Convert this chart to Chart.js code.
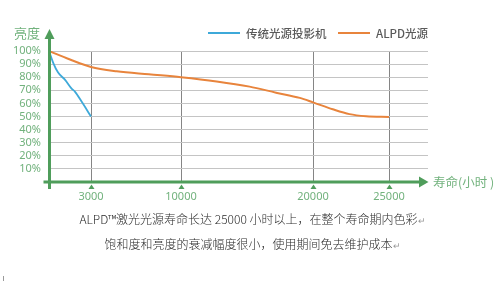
<!DOCTYPE html>
<html>
<head>
<meta charset="utf-8">
<script src="https://cdn.jsdelivr.net/npm/chart.js@4.4.1/dist/chart.umd.min.js"></script>
<style>
  html, body { margin: 0; padding: 0; background: #ffffff; }
  #wrap { position: relative; width: 500px; height: 281px; overflow: hidden; }
  #chart { position: absolute; left: 0; top: 0; }
  .cap { position: absolute; left: 0; width: 505px; text-align: center;
         font-family: "Noto Sans CJK SC", "Noto Sans", sans-serif; font-size: 12px; font-weight: 300;
         color: #2a2a2a; line-height: 14px; white-space: nowrap; }
  .cap .ret { color: #9a9a9a; font-size: 9px; }
  #mark { position: absolute; left: 3px; top: 276px; width: 1px; height: 5px; background: #9a9a9a; }
</style>
</head>
<body>
<div id="wrap">
  <canvas id="chart" width="500" height="281"></canvas>
  <div class="cap" style="top:212px;">ALPD™激光光源寿命长达 25000 小时以上，在整个寿命期内色彩<span class="ret">↵</span></div>
  <div class="cap" style="top:237px;">饱和度和亮度的衰减幅度很小，使用期间免去维护成本<span class="ret">↵</span></div>
  <div id="mark"></div>
</div>
<script>
// Brightness (%) against operating hours for the two light sources
const traditionalHours      = [0, 300, 650, 1150, 1600, 1850, 2350, 3000];
const traditionalBrightness = [100, 91, 83.5, 78, 71.5, 69, 61, 50];

const alpdHours      = [0, 1500, 3000, 5000, 7500, 10000, 12700, 15200, 17200, 19000, 20000, 21300, 22400, 23500, 25000];
const alpdBrightness = [100, 93.5, 87.8, 84.5, 82.2, 80, 76.8, 72.8, 68.2, 64.2, 60.8, 55.5, 51.8, 50.2, 49.6];

const seriesLabels = ['传统光源投影机', 'ALPD光源'];
const xTickValues  = [3000, 10000, 20000, 25000];
const yTickValues  = [10, 20, 30, 40, 50, 60, 70, 80, 90, 100];
const yAxisTitle   = '亮度';
const xAxisTitle   = '寿命(小时 )';

const GREEN = '#4f9d5b';
const GREEN_TEXT = '#72b27d';
const BLUE = '#3ea9d9';
const ORANGE = '#e8843c';

// Linear scale whose hour axis is stretched piecewise between break values
class SegmentScale extends Chart.LinearScale {
  _toDecimal(value) {
    const k = this.options.knots, f = this.options.fractions;
    if (value <= k[0]) return f[0] + (value - k[0]) / (k[1] - k[0]) * (f[1] - f[0]);
    for (let i = 0; i < k.length - 1; i++) {
      if (value <= k[i + 1]) {
        return f[i] + (value - k[i]) / (k[i + 1] - k[i]) * (f[i + 1] - f[i]);
      }
    }
    const n = k.length - 1;
    return f[n] + (value - k[n]) / (k[n] - k[n - 1]) * (f[n] - f[n - 1]);
  }
  getPixelForValue(value) {
    return this.getPixelForDecimal(this._toDecimal(value));
  }
  getValueForPixel(pixel) {
    const d = this.getDecimalForPixel(pixel);
    const k = this.options.knots, f = this.options.fractions;
    for (let i = 0; i < f.length - 1; i++) {
      if (d <= f[i + 1]) return k[i] + (d - f[i]) / (f[i + 1] - f[i]) * (k[i + 1] - k[i]);
    }
    return k[k.length - 1];
  }
}
SegmentScale.id = 'segment';
SegmentScale.defaults = Chart.LinearScale.defaults;
Chart.register(SegmentScale);

const toPoints = (xs, ys) => xs.map((x, i) => ({ x: x, y: ys[i] }));

// Axes with arrow heads, tick markers, axis titles and the legend row
const decorations = {
  id: 'decorations',
  afterDraw(chart) {
    const ctx = chart.ctx;
    const area = chart.chartArea;
    const xs = chart.scales.x, ys = chart.scales.y;
    const x0 = xs.getPixelForValue(0) + 0.5;
    const y0 = ys.getPixelForValue(0);
    ctx.save();
    ctx.fillStyle = GREEN;
    ctx.strokeStyle = GREEN;
    ctx.lineWidth = 3;
    // vertical axis
    ctx.beginPath();
    ctx.moveTo(x0, y0 + 7);
    ctx.lineTo(x0, area.top - 12);
    ctx.stroke();
    ctx.beginPath();
    ctx.moveTo(x0, area.top - 22);
    ctx.lineTo(x0 - 5, area.top - 12);
    ctx.lineTo(x0 + 5, area.top - 12);
    ctx.closePath();
    ctx.fill();
    // horizontal axis
    ctx.beginPath();
    ctx.moveTo(x0 - 6, y0);
    ctx.lineTo(area.right - 9, y0);
    ctx.stroke();
    ctx.beginPath();
    ctx.moveTo(area.right + 0.5, y0);
    ctx.lineTo(area.right - 9, y0 - 5.5);
    ctx.lineTo(area.right - 9, y0 + 5.5);
    ctx.closePath();
    ctx.fill();
    // tick markers under the hour axis
    xs.ticks.forEach(t => {
      const px = xs.getPixelForValue(t.value) + 0.5;
      ctx.beginPath();
      ctx.moveTo(px, y0 + 2.5);
      ctx.lineTo(px - 3, y0 + 7);
      ctx.lineTo(px + 3, y0 + 7);
      ctx.closePath();
      ctx.fill();
    });
    // axis titles
    ctx.fillStyle = GREEN_TEXT;
    ctx.font = '13px "Noto Sans CJK SC", sans-serif';
    ctx.textBaseline = 'middle';
    ctx.textAlign = 'left';
    ctx.fillText(yAxisTitle, 14, area.top - 18);
    ctx.font = '12.5px "Noto Sans CJK SC", sans-serif';
    ctx.fillText(xAxisTitle, area.right + 5, y0);
    // legend row
    const legendY = area.top - 18;
    const starts = [208, 338];
    ctx.font = '500 11.5px "Noto Sans CJK SC", sans-serif';
    chart.data.datasets.forEach((ds, i) => {
      const sx = starts[i];
      ctx.strokeStyle = ds.borderColor;
      ctx.lineWidth = 2;
      ctx.beginPath();
      ctx.moveTo(sx, legendY);
      ctx.lineTo(sx + 32, legendY);
      ctx.stroke();
      ctx.fillStyle = '#5a5a5a';
      ctx.fillText(ds.label, sx + 38, legendY + 0.5);
    });
    ctx.restore();
  }
};

new Chart(document.getElementById('chart'), {
  type: 'line',
  data: {
    datasets: [
      {
        label: seriesLabels[0],
        data: toPoints(traditionalHours, traditionalBrightness),
        borderColor: BLUE,
        borderWidth: 1.8,
        pointRadius: 0,
        cubicInterpolationMode: 'monotone',
        fill: false
      },
      {
        label: seriesLabels[1],
        data: toPoints(alpdHours, alpdBrightness),
        borderColor: ORANGE,
        borderWidth: 2,
        pointRadius: 0,
        cubicInterpolationMode: 'monotone',
        fill: false
      }
    ]
  },
  options: {
    responsive: false,
    devicePixelRatio: 1,
    animation: false,
    layout: { padding: { left: 0, top: 51, right: 72, bottom: 69 } },
    plugins: {
      legend: { display: false },
      tooltip: { enabled: false },
      title: { display: false }
    },
    scales: {
      x: {
        type: 'segment',
        min: 0,
        max: 28000,
        knots: [0, 3000, 10000, 20000, 25000, 28000],
        fractions: [0, 42 / 379, 132 / 379, 264 / 379, 340 / 379, 1],
        afterBuildTicks: s => { s.ticks = xTickValues.map(v => ({ value: v })); },
        afterFit: s => { s.height = 30; },
        border: { display: false },
        grid: { color: '#858585', lineWidth: 1, drawTicks: false },
        ticks: {
          padding: 8,
          color: GREEN_TEXT,
          font: { family: '"Noto Sans", sans-serif', size: 11 },
          callback: v => String(v),
          maxRotation: 0,
          autoSkip: false
        }
      },
      y: {
        min: 0,
        max: 100,
        afterBuildTicks: s => { s.ticks = yTickValues.map(v => ({ value: v })); },
        afterFit: s => { s.width = 49; },
        border: { display: false },
        grid: { color: '#c4c4c4', lineWidth: 1, drawTicks: false },
        ticks: {
          padding: 8,
          autoSkip: false,
          color: GREEN_TEXT,
          font: { family: '"Noto Sans", sans-serif', size: 11 },
          callback: v => v + '%'
        }
      }
    }
  },
  plugins: [decorations]
});
</script>
</body>
</html>
